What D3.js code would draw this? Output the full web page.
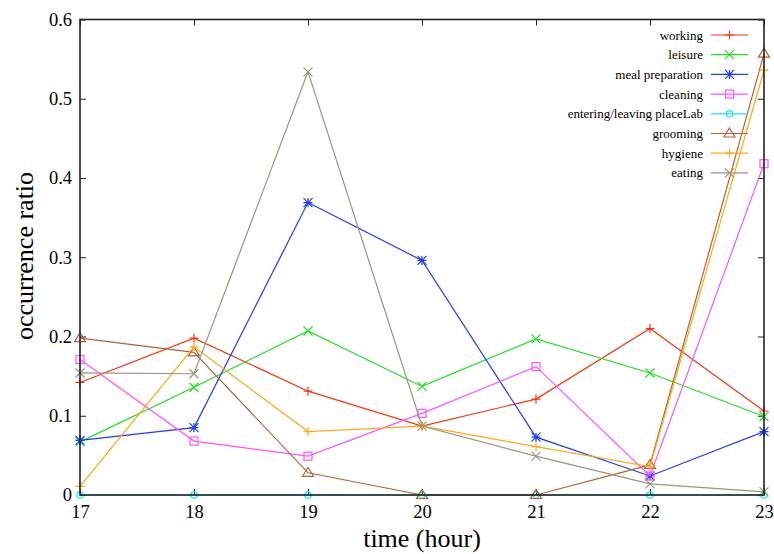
<!DOCTYPE html>
<html><head><meta charset="utf-8">
<script src="https://cdn.jsdelivr.net/npm/d3@7"></script>
<style>body{margin:0;background:#fff}svg{display:block}</style>
</head><body><svg id="c" width="774" height="554"></svg>
<script>
const hours = [17, 18, 19, 20, 21, 22, 23];
const yTicks = [0, 0.1, 0.2, 0.3, 0.4, 0.5, 0.6];
const seriesNames = ["working", "leisure", "meal preparation", "cleaning", "entering/leaving placeLab", "grooming", "hygiene", "eating"];
const working   = [0.142, 0.198, 0.131, 0.087, 0.121, 0.210, 0.106];
const leisure   = [0.067, 0.136, 0.207, 0.137, 0.197, 0.154, 0.099];
const mealPrep  = [0.069, 0.085, 0.369, 0.296, 0.073, 0.024, 0.080];
const cleaning  = [0.171, 0.068, 0.049, 0.103, 0.162, 0.024, 0.418];
const entering  = [0, 0, 0, 0, 0, 0, 0];
const grooming  = [0.198, 0.180, 0.028, 0, 0, 0.038, 0.557];
const hygiene   = [0.011, 0.187, 0.080, 0.087, 0.061, 0.036, 0.536];
const eating    = [0.154, 0.153, 0.534, 0.087, 0.049, 0.014, 0.004];
const seriesValues = [working, leisure, mealPrep, cleaning, entering, grooming, hygiene, eating];
const colors = ["#ff3010", "#22e022", "#1e3cff", "#ff55ff", "#18e8e8", "#b0643a", "#ffaa10", "#99967a"];
const markers = ["plus", "cross", "star", "square", "circle", "triangle", "plus", "cross"];

const FONT = "'Liberation Serif', 'Times New Roman', serif";
const L = 80, R = 764, T = 19.5, B = 495;
const svg = d3.select("#c");
const x = d3.scaleLinear().domain([17, 23]).range([L, R]);
const y = d3.scaleLinear().domain([0, 0.6]).range([B, T]);

const tick = 6;
svg.append("g").attr("transform", `translate(0,${B})`)
  .call(d3.axisBottom(x).tickValues(hours).tickFormat(d3.format("d")).tickSize(-tick).tickPadding(10))
  .call(g => { g.attr("font-family", FONT); g.select(".domain").remove(); g.selectAll("line").attr("stroke", "#222");
    g.selectAll("text").attr("font-size", 18.5).attr("font-family", FONT).attr("fill", "#000").attr("dy", "0.71em"); });
svg.append("g").attr("transform", `translate(0,${T})`)
  .call(d3.axisTop(x).tickValues(hours).tickFormat("").tickSize(-tick))
  .call(g => { g.select(".domain").remove(); g.selectAll("line").attr("stroke", "#222"); });
svg.append("g").attr("transform", `translate(${L},0)`)
  .call(d3.axisLeft(y).tickValues(yTicks).tickFormat(d => d === 0 ? "0" : d3.format(".1f")(d)).tickSize(-tick).tickPadding(8))
  .call(g => { g.attr("font-family", FONT); g.select(".domain").remove(); g.selectAll("line").attr("stroke", "#222");
    g.selectAll("text").attr("font-size", 18.5).attr("font-family", FONT).attr("fill", "#000"); });
svg.append("g").attr("transform", `translate(${R},0)`)
  .call(d3.axisRight(y).tickValues(yTicks).tickFormat("").tickSize(-tick))
  .call(g => { g.select(".domain").remove(); g.selectAll("line").attr("stroke", "#222"); });

const line = d3.line().x((d, i) => x(hours[i])).y(d => y(d));
function marker(g, type, cx, cy, col) {
  const s = 4.5;
  if (type === "plus") {
    g.append("path").attr("d", `M${cx - s},${cy}H${cx + s}M${cx},${cy - s}V${cy + s}`).attr("stroke", col).attr("stroke-width", 1.2);
  } else if (type === "cross") {
    g.append("path").attr("d", `M${cx - s},${cy - s}L${cx + s},${cy + s}M${cx - s},${cy + s}L${cx + s},${cy - s}`).attr("stroke", col).attr("stroke-width", 1.2);
  } else if (type === "star") {
    g.append("path").attr("d", `M${cx - s},${cy}H${cx + s}M${cx},${cy - s}V${cy + s}M${cx - s},${cy - s}L${cx + s},${cy + s}M${cx - s},${cy + s}L${cx + s},${cy - s}`).attr("stroke", col).attr("stroke-width", 1.2);
  } else if (type === "square") {
    g.append("rect").attr("x", cx - 4).attr("y", cy - 4).attr("width", 8).attr("height", 8).attr("fill", "none").attr("stroke", col).attr("stroke-width", 1.2);
  } else if (type === "circle") {
    g.append("circle").attr("cx", cx).attr("cy", cy).attr("r", 3.2).attr("fill", "none").attr("stroke", col).attr("stroke-width", 1.2);
  } else if (type === "triangle") {
    g.append("path").attr("d", `M${cx},${cy - 5.5}L${cx + 5.5},${cy + 3.5}L${cx - 5.5},${cy + 3.5}Z`).attr("fill", "none").attr("stroke", col).attr("stroke-width", 1.2);
  }
}
seriesValues.forEach((vals, k) => {
  const g = svg.append("g");
  g.append("path").datum(vals).attr("d", line).attr("fill", "none").attr("stroke", colors[k]).attr("stroke-width", 1.2);
  vals.forEach((v, i) => marker(g, markers[k], x(hours[i]), y(v), colors[k]));
});

svg.append("rect").attr("x", L).attr("y", T).attr("width", R - L).attr("height", B - T)
  .attr("fill", "none").attr("stroke", "#222").attr("stroke-width", 1.6);

const leg = svg.append("g");
seriesNames.forEach((n, k) => {
  const ly = 35 + k * 19.7;
  leg.append("text").attr("x", 703).attr("y", ly).attr("dy", "0.35em").attr("text-anchor", "end")
    .attr("font-family", FONT).attr("font-size", 13).attr("fill", "#000").text(n);
  leg.append("line").attr("x1", 711).attr("x2", 748).attr("y1", ly).attr("y2", ly).attr("stroke", colors[k]).attr("stroke-width", 1.2);
  marker(leg, markers[k], 729.5, ly, colors[k]);
});

svg.append("text").attr("x", (L + R) / 2).attr("y", 547).attr("text-anchor", "middle")
  .attr("font-family", FONT).attr("font-size", 26).attr("fill", "#000").text("time (hour)");
svg.append("text").attr("transform", `translate(33,256) rotate(-90)`).attr("text-anchor", "middle")
  .attr("font-family", FONT).attr("font-size", 26).attr("fill", "#000").text("occurrence ratio");
</script></body></html>
